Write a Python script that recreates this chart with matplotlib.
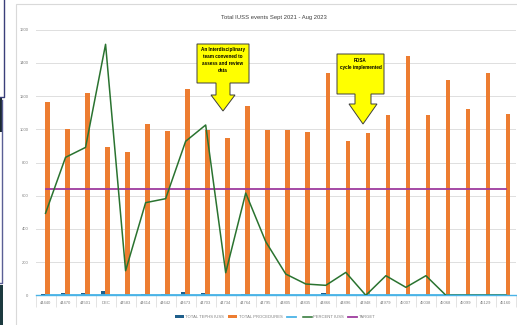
import numpy as np
import matplotlib
matplotlib.use('Agg')
import matplotlib.pyplot as plt
from matplotlib import font_manager
from matplotlib.patches import Polygon, Rectangle
from matplotlib.lines import Line2D

# monthly IUSS data, Sept 2021 - Aug 2023
months = ['44440', '44470', '44501', 'DEC', '44583', '44614', '44642', '44673',
          '44703', '44734', '44764', '44795', '44805', '44835', '44866', '44896',
          '44948', '44979', '45007', '45038', '45068', '45099', '45129', '45160']
tephs_iuss = [6, 12, 15, 24, 3, 6, 6, 18, 12, 2, 10, 1, 1, 1, 16, 1,
              0, 1, 0, 1, 0, 0, 0, 0]
total_procedures = [1162, 1002, 1220, 891, 861, 1034, 988, 1241, 998, 947, 1140, 994,
                    998, 984, 1341, 931, 976, 1088, 1442, 1086, 1297, 1124, 1341, 1092]
percent_blank = [0] * 24
percent_iuss = [494, 831, 891, 1512, 148, 558, 582, 928, 1026, 136, 616, 323,
                128, 68, 60, 138, 0, 118, 48, 118, 0, 0, 0, 0]
target = [640] * 24

W, H = 517, 325
fig = plt.figure(figsize=(W / 100, H / 100), dpi=100)

names = {f.name for f in font_manager.fontManager.ttflist}
narrow = 'Liberation Sans Narrow' in names
plt.rcParams['font.family'] = ['Liberation Sans Narrow' if narrow else 'Liberation Sans',
                               'DejaVu Sans']
k = 1.0 if narrow else 0.84   # shrink text when no condensed face

def fx(px):
    return px / W

def fy(py):
    return 1 - py / H

# chart frame
fig.patches.append(Rectangle((fx(16), fy(330)), fx(520) - fx(16), fy(4) - fy(330),
                             transform=fig.transFigure, fill=False, ec='#d9d9d9', lw=0.8))
# bits of other windows at the left edge
fig.lines.append(Line2D([fx(4), fx(4), fx(0)], [fy(0), fy(97), fy(97)],
                        transform=fig.transFigure, color='#3a3f7a', lw=1.0))
fig.patches.append(Rectangle((0, fy(132)), fx(1.5), fy(97) - fy(132),
                             transform=fig.transFigure, color='#1b2a33', lw=0))
fig.lines.append(Line2D([fx(2), fx(2), fx(0)], [fy(100), fy(283), fy(283)],
                        transform=fig.transFigure, color='#5a5f95', lw=1.0))
fig.patches.append(Rectangle((0, 0), fx(3), fy(285), transform=fig.transFigure,
                             color='#1c3a3f', lw=0))

ax = fig.add_axes([fx(35.5), fy(295.3), fx(516) - fx(35.5), fy(29.7) - fy(295.3)])
x = np.arange(len(months))
w = 0.23
b1 = ax.bar(x - 0.13, tephs_iuss, w, color='#1f5f8b', zorder=2)
b2 = ax.bar(x + 0.1, total_procedures, w, color='#ed7d31', zorder=2)
l1, = ax.plot(x, percent_blank, color='#4ab3e6', lw=1.3, zorder=3, clip_on=False)
l2, = ax.plot(x, percent_iuss, color='#2a7330', lw=1.1, zorder=4)
l3, = ax.plot(x, target, color='#9e3c9e', lw=1.3, zorder=3)
ax.axhline(0, color='#4ab3e6', lw=1.0, zorder=3, clip_on=False)

ax.set_xlim(-0.5, len(months) - 0.5)
ax.set_ylim(0, 1600)
ax.set_yticks(range(0, 1601, 200))
ax.grid(axis='y', color='#dedede', lw=0.7, zorder=0)
ax.set_axisbelow(True)
for s in ax.spines.values():
    s.set_visible(False)
ax.tick_params(axis='y', length=0, labelsize=3.5 * k, labelcolor='#7f7f7f', pad=5)
ax.set_xticks(x)
ax.set_xticklabels(months)
ax.tick_params(axis='x', length=0, labelsize=3.5 * k, labelcolor='#7f7f7f', pad=4)
ax.set_xticks(np.arange(-0.5, len(months), 1), minor=True)
ax.tick_params(axis='x', which='minor', length=8.5, width=0.5, color='#d9d9d9')

fig.text(fx(274), fy(17), 'Total IUSS events Sept 2021 - Aug 2023', ha='center',
         va='center', fontsize=5.0 * k, color='#404040')

leg = fig.legend([b1, b2, l1, l2, l3],
                 ['TOTAL TEPHS IUSS', 'TOTAL PROCEDURES', ' ', 'PERCENT IUSS', 'TARGET'],
                 loc='center', ncol=5, bbox_to_anchor=(fx(275), fy(317)), frameon=False,
                 fontsize=3.5 * k, handlelength=2.2, handleheight=0.6,
                 columnspacing=1.0, handletextpad=0.4)
for t in leg.get_texts():
    t.set_color('#7f7f7f')

def callout(left, top, right, bottom, s_l, s_r, h_l, h_r, h_top, tip, text, ty):
    pts = [(left, top), (right, top), (right, bottom), (s_r, bottom), (s_r, h_top),
           (h_r, h_top), ((h_l + h_r) / 2, tip), (h_l, h_top), (s_l, h_top),
           (s_l, bottom), (left, bottom)]
    pts = [(fx(a), fy(b)) for a, b in pts]
    fig.patches.append(Polygon(pts, closed=True, transform=fig.transFigure,
                               fc='#ffff00', ec='#3f3f3f', lw=0.7, zorder=10))
    fig.text(fx((left + right) / 2), fy(ty), text, ha='center', va='top',
             fontsize=4.0 * k, fontweight='bold', linespacing=1.5, zorder=11)

callout(197, 44, 249, 83, 216, 230, 211, 235, 95, 111,
        'An Interdisciplinary\nteam convened to\nassess and review\ndata', 47)
callout(337, 54, 384, 94, 355, 371, 349, 377, 104, 124,
        'PDSA\ncycle implemented', 58)

fig.savefig('out.png', dpi=100)
